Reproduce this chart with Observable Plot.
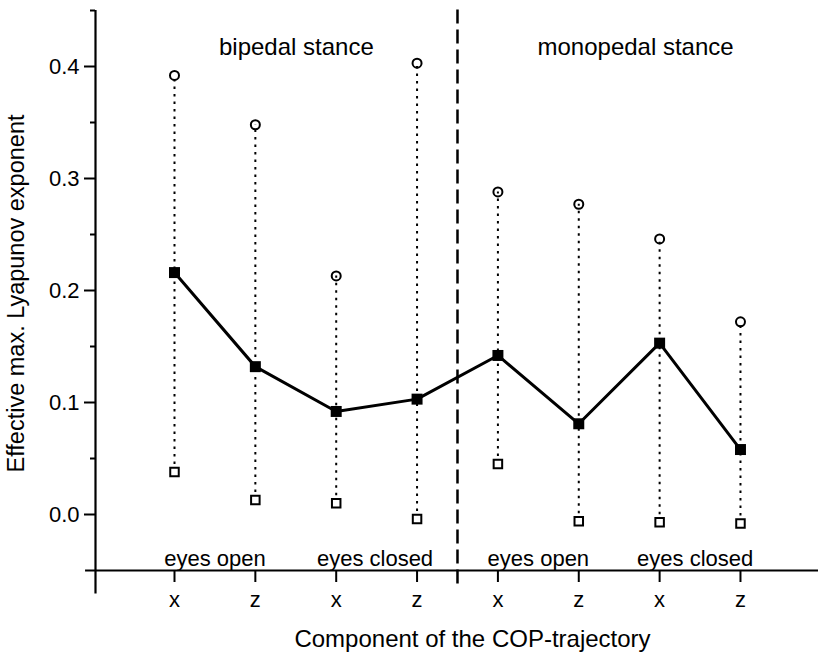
<!DOCTYPE html>
<html><head><meta charset="utf-8">
<script src="https://cdn.jsdelivr.net/npm/d3@7"></script>
<script src="https://cdn.jsdelivr.net/npm/@observablehq/plot@0.6"></script>
<style>body{margin:0;background:#fff} svg{display:block}</style>
</head><body><div id="chart"></div>
<script>
const components = ["x", "z", "x", "z", "x", "z", "x", "z"];
const conditions = ["eyes open", "eyes closed", "eyes open", "eyes closed"];
const stances = ["bipedal stance", "monopedal stance"];
const maxValues  = [0.392, 0.348, 0.213, 0.403, 0.288, 0.277, 0.246, 0.172];
const meanValues = [0.216, 0.132, 0.092, 0.103, 0.142, 0.081, 0.153, 0.058];
const minValues  = [0.038, 0.013, 0.010, -0.004, 0.045, -0.006, -0.007, -0.008];
const yTicks = [0, 0.1, 0.2, 0.3, 0.4];
const yMinorTicks = [0.05, 0.15, 0.25, 0.35, 0.45];
const yTitle = "Effective max. Lyapunov exponent";
const xTitle = "Component of the COP-trajectory";

const data = components.map((c, i) => ({pos: i + 1, comp: c, max: maxValues[i], mean: meanValues[i], min: minValues[i]}));
const font = "'Liberation Sans', Arial, Helvetica, sans-serif";
const X0 = 0.023, X1 = 8.965;

const chart = Plot.plot({
  width: 818, height: 668,
  marginLeft: 95, marginRight: 0, marginTop: 10, marginBottom: 98,
  style: {fontFamily: font, background: "white", color: "black", overflow: "visible"},
  x: {type: "linear", domain: [X0, X1]},
  y: {domain: [-0.05, 0.45]},
  marks: [
    Plot.axisY(yTicks, {tickSize: 11, tickPadding: 5, tickFormat: d3.format(".1f"), fontSize: 22, strokeWidth: 2, label: null}),
    Plot.axisY(yMinorTicks, {tickSize: 5, tickFormat: () => "", strokeWidth: 2, label: null}),
    Plot.axisX(data.map(d => d.pos), {tickSize: 12, tickPadding: 9, tickFormat: d => components[d - 1], fontSize: 22, strokeWidth: 2, label: null}),
    Plot.ruleX([X0], {y1: -0.071, y2: 0.45, strokeWidth: 2.2}),
    Plot.ruleY([-0.05], {x1: -0.1, x2: X1, strokeWidth: 2.2}),
    Plot.ruleX([4.5], {y1: -0.062, y2: 0.452, strokeDasharray: "14,6", strokeWidth: 2.5}),
    Plot.ruleX(data, {x: "pos", y1: "min", y2: "max", strokeDasharray: "2.5,5", strokeWidth: 2}),
    Plot.line(data, {x: "pos", y: "mean", strokeWidth: 3}),
    Plot.dot(data, {x: "pos", y: "mean", symbol: "square", r: 6.2, fill: "black"}),
    Plot.dot(data, {x: "pos", y: "min", symbol: "square", r: 4.8, fill: "white", stroke: "black", strokeWidth: 2}),
    Plot.dot(data, {x: "pos", y: "max", r: 4.5, fill: "none", stroke: "black", strokeWidth: 2}),
    Plot.text(conditions, {x: [1.5, 3.48, 5.5, 7.44], y: [-0.05, -0.05, -0.05, -0.05], text: d => d, dy: -5, lineAnchor: "bottom", fontSize: 22}),
    Plot.text(stances, {x: [1.55, 5.49], frameAnchor: "top", textAnchor: "start", lineAnchor: "bottom", dy: 44, fontSize: 24, text: d => d}),
    Plot.text([yTitle], {frameAnchor: "left", textAnchor: "middle", dx: -79, dy: 3, rotate: -90, fontSize: 23.5, lineAnchor: "middle", text: d => d}),
    Plot.text([xTitle], {frameAnchor: "bottom", dx: 15.5, dy: 76, lineAnchor: "bottom", fontSize: 24, text: d => d})
  ]
});
document.getElementById("chart").append(chart);
</script>
</body></html>
